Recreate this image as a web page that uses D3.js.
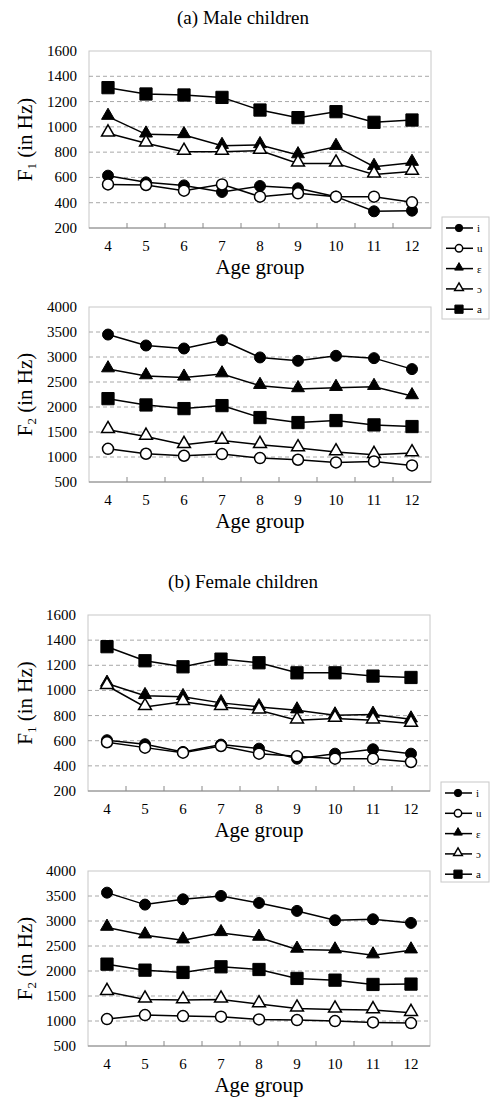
<!DOCTYPE html>
<meta charset="utf-8">
<script src="https://d3js.org/d3.v7.min.js"></script>
<style>
  body { margin: 0; background: #fff; }
  svg text { font-family: "Times New Roman", "Liberation Serif", Tinos, "DejaVu Serif", "Noto Serif", Times, serif; }
</style>
<body></body>
<script>

// age groups on the x axis
var ages = [4, 5, 6, 7, 8, 9, 10, 11, 12];
var vowels = ["i", "u", "\u025b", "\u0254", "a"];
var shapes = ["circle", "circle", "triangle", "triangle", "square"];
var filled = [true, false, true, false, true];

// series in vowel order: i, u, ε, ɔ, a
var maleF1 = [
  [614, 561, 537, 485, 532, 514, 448, 332, 337],
  [545, 540, 495, 545, 448, 474, 448, 448, 403],
  [1081, 941, 936, 851, 857, 777, 843, 685, 717],
  [949, 870, 804, 804, 812, 711, 711, 624, 646],
  [1310, 1260, 1252, 1233, 1133, 1073, 1120, 1036, 1054]
];
var maleF2 = [
  [3449, 3230, 3170, 3336, 2991, 2924, 3024, 2977, 2758],
  [1164, 1065, 1025, 1058, 978, 945, 892, 912, 832],
  [2758, 2619, 2592, 2658, 2426, 2360, 2386, 2406, 2220],
  [1543, 1410, 1244, 1330, 1244, 1178, 1098, 1045, 1078],
  [2167, 2041, 1968, 2028, 1789, 1689, 1729, 1642, 1609]
];
var femaleF1 = [
  [604, 572, 511, 569, 537, 457, 497, 532, 497],
  [588, 545, 505, 558, 497, 476, 457, 457, 431],
  [1055, 957, 949, 901, 869, 843, 803, 808, 771],
  [1037, 869, 909, 869, 843, 763, 776, 763, 736],
  [1348, 1236, 1188, 1249, 1220, 1140, 1140, 1114, 1103]
];
var femaleF2 = [
  [3567, 3328, 3434, 3501, 3361, 3202, 3015, 3035, 2962],
  [1039, 1119, 1099, 1086, 1032, 1019, 999, 972, 959],
  [2869, 2716, 2616, 2762, 2669, 2430, 2416, 2317, 2416],
  [1585, 1432, 1418, 1432, 1338, 1252, 1232, 1219, 1165],
  [2137, 2017, 1971, 2084, 2030, 1851, 1817, 1731, 1738]
];

var f1Ticks = [200, 400, 600, 800, 1000, 1200, 1400, 1600];
var f2Ticks = [500, 1000, 1500, 2000, 2500, 3000, 3500, 4000];

var svg = d3.select("body").append("svg")
  .attr("width", 490)
  .attr("height", 1097);

// titles
svg.append("text").attr("x", 243).attr("y", 24)
  .attr("text-anchor", "middle").attr("font-size", 19)
  .text("(a) Male children");
svg.append("text").attr("x", 243).attr("y", 588)
  .attr("text-anchor", "middle").attr("font-size", 19)
  .text("(b) Female children");

function marker(g, shape, fill, size) {
  var sym;
  if (shape == "circle") sym = d3.symbolCircle;
  else if (shape == "triangle") sym = d3.symbolTriangle;
  else sym = d3.symbolSquare;
  return g.append("path")
    .attr("d", d3.symbol().type(sym).size(size)())
    .attr("fill", fill ? "#000" : "#fff")
    .attr("stroke", "#000")
    .attr("stroke-width", fill ? 1 : 1.5);
}

function markerSize(shape) {
  if (shape == "circle") return 95;
  if (shape == "triangle") return 72;
  return 150;
}

function drawPanel(data, ticks, box, sub) {
  var x = d3.scaleBand().domain(ages).range([box.left, box.right]);
  var y = d3.scaleLinear().domain([ticks[0], ticks[ticks.length - 1]]).range([box.bottom, box.top]);
  var g = svg.append("g");

  // plot frame
  g.append("rect")
    .attr("x", box.left).attr("y", box.top)
    .attr("width", box.right - box.left).attr("height", box.bottom - box.top)
    .attr("fill", "none").attr("stroke", "#c8c8c8").attr("stroke-width", 1);

  // dashed gridlines
  g.selectAll(".grid")
    .data(ticks.slice(1, -1))
    .enter().append("line")
    .attr("x1", box.left).attr("x2", box.right)
    .attr("y1", d => y(d)).attr("y2", d => y(d))
    .attr("stroke", "#a8a8a8").attr("stroke-dasharray", "4,3");

  // bottom axis with inward ticks at category boundaries
  g.append("line")
    .attr("x1", box.left).attr("x2", box.right)
    .attr("y1", box.bottom).attr("y2", box.bottom)
    .attr("stroke", "#888");
  g.selectAll(".xtick")
    .data(ages.slice(1))
    .enter().append("line")
    .attr("x1", d => x(d)).attr("x2", d => x(d))
    .attr("y1", box.bottom).attr("y2", box.bottom - 5)
    .attr("stroke", "#888");

  g.selectAll(".xlab")
    .data(ages)
    .enter().append("text")
    .attr("x", d => x(d) + x.bandwidth() / 2)
    .attr("y", box.bottom + 23)
    .attr("text-anchor", "middle").attr("font-size", 15)
    .text(d => d);

  g.selectAll(".ylab")
    .data(ticks)
    .enter().append("text")
    .attr("x", box.left - 12)
    .attr("y", d => y(d) + 5)
    .attr("text-anchor", "end").attr("font-size", 15)
    .text(d => d);

  g.append("text")
    .attr("x", (box.left + box.right) / 2)
    .attr("y", box.bottom + 46)
    .attr("text-anchor", "middle").attr("font-size", 21)
    .text("Age group");

  var yl = g.append("text")
    .attr("transform", `translate(32,${(box.top + box.bottom) / 2}) rotate(-90)`)
    .attr("text-anchor", "middle").attr("font-size", 21);
  yl.append("tspan").text("F");
  yl.append("tspan").attr("dy", 4).attr("font-size", 13).text(sub);
  yl.append("tspan").attr("dy", -4).text(" (in Hz)");

  var line = d3.line()
    .x((d, i) => x(ages[i]) + x.bandwidth() / 2)
    .y(d => y(d));

  [4, 2, 3, 0, 1].forEach(function(k) {
    var s = g.append("g");
    s.append("path")
      .attr("d", line(data[k]))
      .attr("fill", "none").attr("stroke", "#000").attr("stroke-width", 1.5);
    data[k].forEach(function(v, i) {
      var cx = x(ages[i]) + x.bandwidth() / 2;
      var cy = y(v);
      if (shapes[k] == "triangle") cy -= 1;
      marker(s, shapes[k], filled[k], markerSize(shapes[k]))
        .attr("transform", `translate(${cx},${cy})`);
    });
  });
}

function drawLegend(lx, ly, w, h) {
  var g = svg.append("g");
  g.append("rect")
    .attr("x", lx).attr("y", ly).attr("width", w).attr("height", h)
    .attr("fill", "#fff").attr("stroke", "#c8c8c8");
  vowels.forEach(function(v, k) {
    var cy = ly + 11 + k * 20.3;
    g.append("line")
      .attr("x1", lx + 4).attr("x2", lx + 31)
      .attr("y1", cy).attr("y2", cy)
      .attr("stroke", "#000").attr("stroke-width", 1.5);
    marker(g, shapes[k], filled[k], markerSize(shapes[k]) * 0.45)
      .attr("transform", `translate(${lx + 17},${cy - (shapes[k] == "triangle" ? 1 : 0)})`);
    g.append("text")
      .attr("x", lx + 35).attr("y", cy + 4)
      .attr("font-size", 11)
      .text(v);
  });
}

drawPanel(maleF1, f1Ticks, {left: 89, right: 431, top: 51, bottom: 228}, "1");
drawPanel(maleF2, f2Ticks, {left: 89, right: 431, top: 307, bottom: 482}, "2");
drawPanel(femaleF1, f1Ticks, {left: 88, right: 430, top: 615, bottom: 791}, "1");
drawPanel(femaleF2, f2Ticks, {left: 88, right: 430, top: 871, bottom: 1046}, "2");

drawLegend(442, 217, 47, 102);
drawLegend(441, 782, 48, 100);

</script>
